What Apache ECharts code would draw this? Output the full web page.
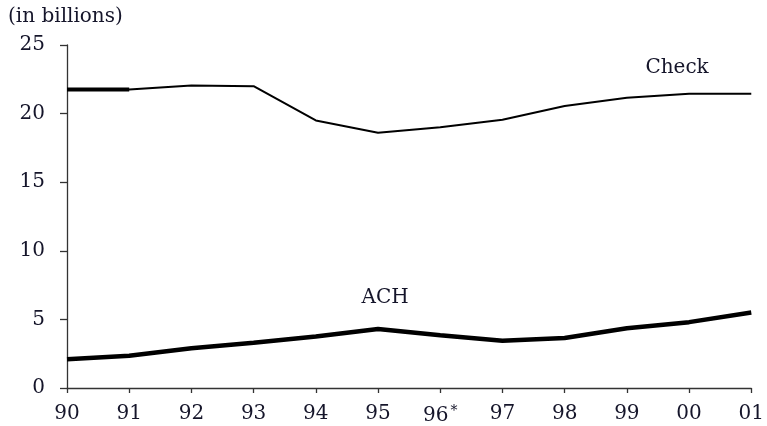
<!DOCTYPE html>
<html>
<head>
<meta charset="utf-8">
<script src="https://cdn.jsdelivr.net/npm/echarts@6/dist/echarts.min.js"></script>
<style>html,body{margin:0;padding:0;background:#fff}#c{width:767px;height:426px}</style>
</head>
<body>
<div id="c"></div>
<script>
var years = ['90','91','92','93','94','95','96','97','98','99','00','01'];
var checkValues = [21.75, 21.75, 22.05, 22.0, 19.5, 18.6, 19.0, 19.55, 20.55, 21.15, 21.45, 21.45];
var checkBoldValues = [21.75, 21.75, null, null, null, null, null, null, null, null, null, null];
var achValues = [2.1, 2.35, 2.9, 3.3, 3.75, 4.3, 3.85, 3.45, 3.65, 4.35, 4.8, 5.5];
var yTicks = [0, 5, 10, 15, 20, 25];

var font = '"DejaVu Serif", "Liberation Serif", serif';
var txt = '#15152a';
var chart = echarts.init(document.getElementById('c'), null, {renderer: 'canvas'});
chart.setOption({
  animation: false,
  backgroundColor: '#fff',
  grid: {left: 67, right: 12, top: 45, bottom: 38, containLabel: false},
  graphic: [
    {type: 'text', left: 8, top: 7, style: {text: '(in billions)', font: '20px ' + font, fill: txt}}
  ],
  xAxis: {
    type: 'category', data: years, boundaryGap: false,
    axisLine: {lineStyle: {color: '#333', width: 1.3}},
    axisTick: {alignWithLabel: true, interval: 0, length: 5, lineStyle: {color: '#333', width: 1.3}},
    axisLabel: {
      interval: 0, margin: 16, color: txt, fontFamily: font, fontSize: 20,
      formatter: function (v) { return v === '96' ? '96{s|*}' : v; },
      rich: {s: {fontSize: 14, verticalAlign: 'top', padding: [0, 0, 10, 2], fontFamily: font, color: txt}}
    },
    splitLine: {show: false}
  },
  yAxis: {
    type: 'value', min: yTicks[0], max: yTicks[yTicks.length - 1], interval: 5,
    axisLine: {show: true, lineStyle: {color: '#333', width: 1.3}},
    axisTick: {show: true, length: 7, lineStyle: {color: '#333', width: 1.3}},
    axisLabel: {margin: 22, color: txt, fontFamily: font, fontSize: 20, align: 'right'},
    splitLine: {show: false}
  },
  series: [
    {
      name: 'Check', type: 'line', data: checkValues, symbol: 'none',
      lineStyle: {color: '#000', width: 2},
      markPoint: {
        symbol: 'rect', symbolSize: 0,
        data: [{coord: ['00', 23.35], value: 'Check'}],
        label: {show: true, formatter: 'Check', color: txt, fontFamily: font, fontSize: 20, offset: [-12, 0]}
      }
    },
    {
      name: 'CheckBold', type: 'line', data: checkBoldValues, symbol: 'none',
      lineStyle: {color: '#000', width: 4}
    },
    {
      name: 'ACH', type: 'line', data: achValues, symbol: 'none',
      lineStyle: {color: '#000', width: 4.5},
      markPoint: {
        symbol: 'rect', symbolSize: 0,
        data: [{coord: ['95', 6.6], value: 'ACH'}],
        label: {show: true, formatter: 'ACH', color: txt, fontFamily: font, fontSize: 20, offset: [7, 0]}
      }
    }
  ]
});
</script>
</body>
</html>
